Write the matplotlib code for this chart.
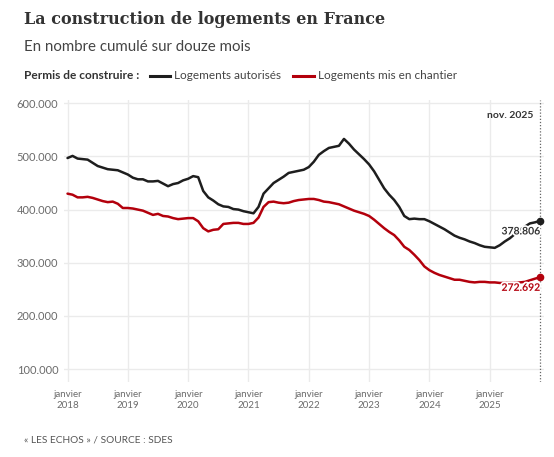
import matplotlib
matplotlib.use("Agg")
import matplotlib.pyplot as plt
from matplotlib.lines import Line2D
import matplotlib.patheffects as pe

# ---- data (thousands of dwellings, 12-month cumulative, monthly Jan 2018 .. Nov 2025)
autorises = [497, 501, 496, 495, 494, 488, 482, 479, 476, 475, 474, 470,
             466, 460, 457, 457, 453, 453, 454, 449, 444, 448, 450, 455,
             458, 463, 461, 435, 423, 417, 410, 406, 405, 401, 400, 397,
             395, 393, 405, 430, 440, 450, 456, 462, 469, 471, 473, 475,
             480, 490, 503, 510, 516, 518, 520, 533, 524, 513, 504, 495,
             485, 472, 456, 440, 428, 418, 405, 388, 382, 383, 382, 382,
             378, 373, 368, 363, 357, 351, 347, 344, 340, 337, 333, 330,
             329, 328, 333, 340, 346, 354, 362, 368, 374, 376, 378.806]
chantier = [430, 428, 423, 423, 424, 422, 419, 416, 414, 415, 411, 403,
            403, 402, 400, 398, 394, 390, 392, 388, 387, 384, 382, 383,
            384, 384, 378, 365, 359, 362, 363, 373, 374, 375, 375, 373,
            373, 375, 385, 405, 414, 415, 413, 412, 413, 416, 418, 419,
            420, 420, 418, 415, 414, 412, 410, 406, 402, 398, 395, 392,
            388, 381, 373, 365, 358, 352, 342, 330, 324, 315, 305, 293,
            286, 281, 277, 274, 271, 268, 268, 266, 264, 263, 264, 264,
            263, 263, 262, 262, 262, 262, 263, 264, 267, 270, 272.692]
years = [2018, 2019, 2020, 2021, 2022, 2023, 2024, 2025]
y_ticks = [100, 200, 300, 400, 500, 600]
last_label = "nov. 2025"
series_names = ["Logements autorisés", "Logements mis en chantier"]

BLACK = "#1e1e1e"
RED = "#b3000c"
GRID = "#ebebeb"
TICK = "#6b6b6b"

plt.rcParams['font.family'] = ['Lato', 'DejaVu Sans']

W, H = 554, 457
fig = plt.figure(figsize=(W / 100, H / 100), dpi=100)
ax = fig.add_axes([64 / W, (H - 382) / H, 480 / W, 282 / H])

months = list(range(len(autorises)))
ax.plot(months, autorises, color=BLACK, lw=1.8, solid_capstyle='round', zorder=3)
ax.plot(months, chantier, color=RED, lw=1.8, solid_capstyle='round', zorder=3)
last = months[-1]
ax.plot([last], [autorises[-1]], 'o', color=BLACK, ms=4.5, zorder=4)
ax.plot([last], [chantier[-1]], 'o', color=RED, ms=4.5, zorder=4)

ax.set_xlim(-0.7, 94.8)
ax.set_ylim(75.6, 606.2)

xt = [(y - 2018) * 12 for y in years]
ax.set_xticks(xt)
ax.set_xticklabels([f"janvier\n{y}" for y in years], fontsize=7, color=TICK,
                   linespacing=1.25)
ax.set_yticks(y_ticks)
ax.set_yticklabels([f"{v}.000" for v in y_ticks], fontsize=8, color=TICK)
ax.tick_params(length=0, pad=4)
ax.tick_params(axis='x', pad=6)
ax.grid(True, color=GRID, lw=1)
ax.set_axisbelow(True)
for s in ax.spines.values():
    s.set_visible(False)

# dotted vertical reference line at last month
ax.axvline(last, color="#666666", lw=0.9, ls=(0, (1, 1.5)), zorder=2)
ax.annotate(last_label, xy=(last, 1), xycoords=('data', 'axes fraction'),
            xytext=(-5, -11), textcoords='offset points', ha='right', va='center',
            fontsize=7.5, fontweight='bold', color="#333333")

halo = [pe.withStroke(linewidth=2.5, foreground='white')]
ax.annotate(f"{autorises[-1]:.3f}", xy=(last, autorises[-1]), xytext=(0, -8),
            textcoords='offset points', ha='right', va='center', fontsize=7.5,
            fontweight='bold', color="#333333", path_effects=halo, zorder=5)
ax.annotate(f"{chantier[-1]:.3f}", xy=(last, chantier[-1]), xytext=(0, -8),
            textcoords='offset points', ha='right', va='center', fontsize=7.5,
            fontweight='bold', color=RED, path_effects=halo, zorder=5)

# titles
fig.text(24 / W, 1 - 20 / H, "La construction de logements en France",
         family=['DejaVu Serif'], fontweight='bold', fontsize=11.5,
         color="#333333", va='center', ha='left')
fig.text(24 / W, 1 - 47 / H, "En nombre cumulé sur douze mois",
         fontsize=10.8, color="#444444", va='center', ha='left')

# legend
ly = 1 - 76 / H
fig.text(24 / W, ly, "Permis de construire :", fontsize=8.6, fontweight='bold',
         color="#333333", va='center', ha='left')
fig.add_artist(Line2D([150 / W, 170 / W], [ly, ly], color=BLACK, lw=2.2,
                      transform=fig.transFigure))
fig.text(174 / W, ly, series_names[0], fontsize=8.5, color="#444444",
         va='center', ha='left')
fig.add_artist(Line2D([293 / W, 314 / W], [ly, ly], color=RED, lw=2.2,
                      transform=fig.transFigure))
fig.text(318 / W, ly, series_names[1], fontsize=8.5, color="#444444",
         va='center', ha='left')

fig.text(24 / W, 1 - 440 / H, "« LES ECHOS » / SOURCE : SDES", fontsize=7.3,
         color="#555555", va='center', ha='left')

fig.savefig("out.png", dpi=100)
